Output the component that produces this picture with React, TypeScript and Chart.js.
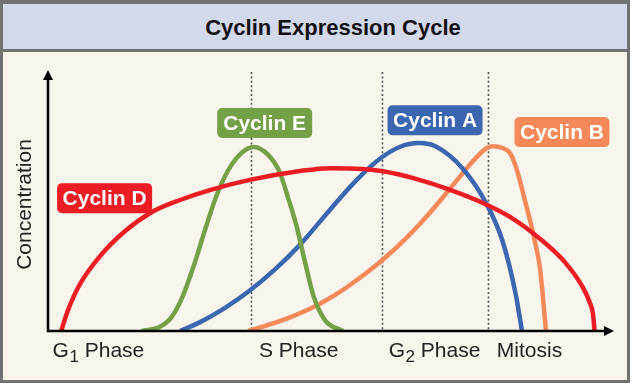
import React, { useEffect, useRef } from "react";
import { Chart, registerables } from "chart.js";

Chart.register(...registerables);

// Concentration (0-100) over cycle progress (0-99)
const cyclinD: [number, number][] = [
  [2.3, 0], [3.5, 8.0], [5.6, 18.0], [9.1, 28.7], [13.5, 38.3], [18.2, 45.6],
  [23.1, 50.2], [28.3, 54.0], [35.3, 57.9], [44.1, 61.3], [49.3, 62.4],
  [55.1, 62.1], [58.6, 61.2], [64.2, 58.4], [70.1, 54.3], [75.5, 49.6],
  [80.8, 43.7], [86.0, 35.4], [90.4, 26.4], [93.5, 16.9], [94.8, 10.7],
  [95.3, 6.9], [95.6, 0],
];
const cyclinE: [number, number][] = [
  [16.4, 0], [19.5, 1.5], [21.5, 5], [23.5, 13], [25.5, 25], [27.5, 39],
  [29.5, 52], [31.5, 61.5], [33.5, 67.5], [36.0, 70.5], [38.5, 67.5],
  [40.5, 61], [42.0, 51], [43.5, 40], [45.0, 26], [46.5, 13], [48.5, 4], [51.6, 0],
];
const cyclinA: [number, number][] = [
  [23.1, 0], [26.6, 3.4], [30.9, 8.8], [35.3, 15.5], [39.7, 23.6], [44.1, 33.1],
  [49.3, 46.4], [54.0, 57.9], [58.0, 65.9], [61.5, 70.5], [64.9, 72.0],
  [68.0, 70.5], [72.6, 62.1], [76.7, 48.7], [79.5, 34.5], [81.8, 14.2], [82.9, 0],
];
const cyclinB: [number, number][] = [
  [35.0, 0], [38.8, 2.5], [43.2, 6.0], [47.0, 9.8], [51.0, 14.9], [54.5, 20.3],
  [58.6, 27.4], [62.8, 35.9], [66.8, 45.3], [71.5, 57.7], [73.8, 63.8],
  [75.5, 67.8], [76.7, 70.0], [77.8, 70.8], [79.5, 70.1], [80.8, 68.2],
  [81.8, 63.2], [82.5, 57.9], [83.4, 50.2], [84.3, 42.5], [85.1, 34.9],
  [86.0, 24.9], [86.5, 14.6], [87.1, 0],
];

const seriesNames = ["Cyclin D", "Cyclin E", "Cyclin A", "Cyclin B"];
const seriesColors = ["#ec1c24", "#74a047", "#3d66b0", "#f5895a"];
// label box centers (x, y in data units)
const labelX = [9.9, 37.9, 67.7, 89.9];
const labelY = [50.9, 79.7, 80.7, 76.2];

const phaseBoundaries = [35.5, 58.4, 76.9];
const phaseMain = ["G", "S Phase", "G", "Mitosis"];
const phaseSub = ["1", "", "2", ""];
const phaseRest = [" Phase", "", " Phase", ""];
const phaseX = [0.8, 36.9, 59.6, 78.5];

const yAxisTitle = "Concentration";
const chartTitle = "Cyclin Expression Cycle";

const FONT = "'Liberation Sans', Arial, sans-serif";

const overlay = {
  id: "overlay",
  beforeDatasetsDraw(chart: any) {
    const { ctx, chartArea } = chart;
    const xs = chart.scales.x;
    ctx.save();
    ctx.strokeStyle = "#555";
    ctx.lineWidth = 1.6;
    ctx.setLineDash([2, 2.4]);
    phaseBoundaries.forEach((v) => {
      const px = Math.round(xs.getPixelForValue(v)) + 0.5;
      ctx.beginPath();
      ctx.moveTo(px, chartArea.top + 2);
      ctx.lineTo(px, chartArea.bottom);
      ctx.stroke();
    });
    ctx.restore();
  },
  afterDatasetsDraw(chart: any) {
    const { ctx, chartArea } = chart;
    const xs = chart.scales.x;
    const ys = chart.scales.y;
    const L = chartArea.left;
    const B = chartArea.bottom;
    const T = chartArea.top;
    const R = chartArea.right;
    ctx.save();
    // axes
    ctx.strokeStyle = "#000";
    ctx.fillStyle = "#000";
    ctx.lineWidth = 2.5;
    ctx.beginPath();
    ctx.moveTo(L, B);
    ctx.lineTo(L, T + 8);
    ctx.moveTo(L - 1.2, B);
    ctx.lineTo(R - 8, B);
    ctx.stroke();
    ctx.beginPath();
    ctx.moveTo(L, T);
    ctx.lineTo(L - 5, T + 10);
    ctx.lineTo(L + 5, T + 10);
    ctx.closePath();
    ctx.fill();
    ctx.beginPath();
    ctx.moveTo(R, B);
    ctx.lineTo(R - 10, B - 5);
    ctx.lineTo(R - 10, B + 5);
    ctx.closePath();
    ctx.fill();

    // y title
    ctx.save();
    ctx.translate(25, (T + B) / 2 + 4);
    ctx.rotate(-Math.PI / 2);
    ctx.font = `21px ${FONT}`;
    ctx.fillStyle = "#222";
    ctx.textAlign = "center";
    ctx.textBaseline = "middle";
    ctx.fillText(yAxisTitle, 0, 0);
    ctx.restore();

    // phase labels
    ctx.fillStyle = "#222";
    ctx.textBaseline = "alphabetic";
    ctx.textAlign = "left";
    phaseMain.forEach((m, i) => {
      let px = xs.getPixelForValue(phaseX[i]);
      const base = B + 26;
      ctx.font = `21px ${FONT}`;
      ctx.fillText(m, px, base);
      px += ctx.measureText(m).width;
      if (phaseSub[i]) {
        ctx.font = `17px ${FONT}`;
        ctx.fillText(phaseSub[i], px + 0.5, base + 5);
        px += ctx.measureText(phaseSub[i]).width + 0.5;
      }
      if (phaseRest[i]) {
        ctx.font = `21px ${FONT}`;
        ctx.fillText(phaseRest[i], px, base);
      }
    });

    // series labels
    seriesNames.forEach((name, i) => {
      const cx = xs.getPixelForValue(labelX[i]);
      const cy = ys.getPixelForValue(labelY[i]);
      const w = 95;
      const h = 30;
      ctx.fillStyle = seriesColors[i];
      ctx.beginPath();
      (ctx as any).roundRect(cx - w / 2, cy - h / 2, w, h, 5);
      ctx.fill();
      ctx.fillStyle = "#fff";
      ctx.font = `bold 21px ${FONT}`;
      ctx.textAlign = "center";
      ctx.textBaseline = "middle";
      ctx.fillText(name, cx, cy + 1);
    });
    ctx.restore();
  },
};

export default function App() {
  const ref = useRef<HTMLCanvasElement>(null);

  useEffect(() => {
    document.body.style.margin = "0";
    if (!ref.current) return;
    const all = [cyclinD, cyclinE, cyclinA, cyclinB];
    const chart = new Chart(ref.current, {
      type: "line",
      data: {
        datasets: all.map((s, i) => ({
          label: seriesNames[i],
          data: s.map(([x, y]) => ({ x, y })),
          borderColor: seriesColors[i],
          borderWidth: 4.5,
          pointRadius: 0,
          fill: false,
          cubicInterpolationMode: "monotone" as const,
          borderCapStyle: "butt" as const,
        })),
      },
      options: {
        animation: false,
        responsive: false,
        maintainAspectRatio: false,
        layout: { padding: { left: 48, right: 22, top: 70, bottom: 57 } },
        plugins: {
          legend: { display: false },
          tooltip: { enabled: false },
          title: { display: false },
        },
        scales: {
          x: { type: "linear", min: 0, max: 99, display: false },
          y: { type: "linear", min: 0, max: 100, display: false },
        },
      },
      plugins: [overlay],
    });
    return () => chart.destroy();
  }, []);

  return (
    <div style={{ position: "relative", width: 636, height: 388, background: "#fff", overflow: "hidden" }}>
      <div
        style={{
          position: "absolute",
          left: 0,
          top: 0,
          width: 630,
          height: 383,
          boxSizing: "border-box",
          borderStyle: "solid",
          borderColor: "#727272",
          borderWidth: "4px 3px 3px 3px",
          background: "#f8f5ed",
        }}
      >
        <div
          style={{
            position: "absolute",
            left: 0,
            top: 0,
            right: 0,
            height: 48,
            boxSizing: "border-box",
            background: "#d3d8eb",
            borderBottom: "3px solid #727272",
            display: "flex",
            alignItems: "center",
            justifyContent: "center",
            paddingLeft: 36,
            paddingTop: 2,
            font: `bold 22px ${FONT}`,
            color: "#111",
          }}
        >
          {chartTitle}
        </div>
      </div>
      <canvas ref={ref} width={636} height={388} style={{ position: "absolute", left: 0, top: 0 }} />
    </div>
  );
}
